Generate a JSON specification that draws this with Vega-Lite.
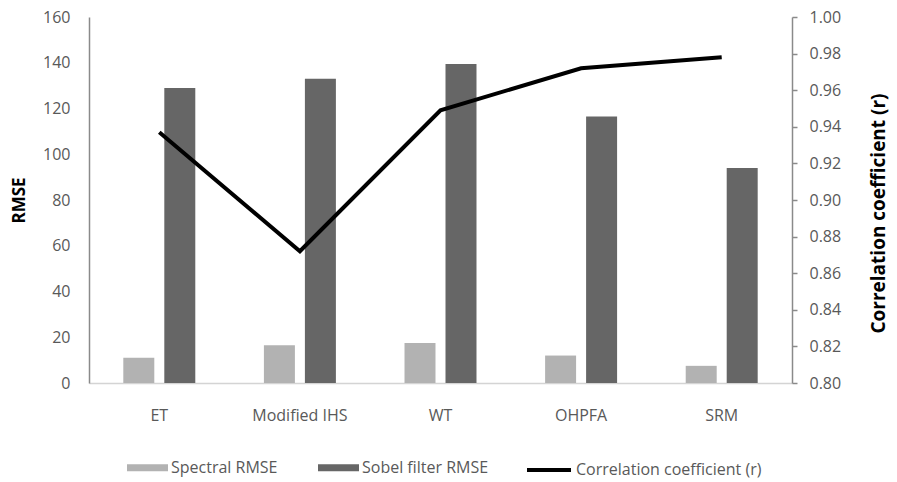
{
  "$schema": "https://vega.github.io/schema/vega-lite/v6.json",
  "width": 703,
  "height": 366,
  "autosize": {"type": "none"},
  "padding": {"left": 89, "top": 17, "right": 105, "bottom": 99},
  "config": {"view": {"stroke": null}, "font": "Open Sans"},
  "datasets": {
    "bars": [
      {"method": "ET", "series": "Spectral RMSE", "rmse": 11},
      {"method": "ET", "series": "Sobel filter RMSE", "rmse": 129},
      {"method": "Modified IHS", "series": "Spectral RMSE", "rmse": 16.5},
      {"method": "Modified IHS", "series": "Sobel filter RMSE", "rmse": 133},
      {"method": "WT", "series": "Spectral RMSE", "rmse": 17.5},
      {"method": "WT", "series": "Sobel filter RMSE", "rmse": 139.5},
      {"method": "OHPFA", "series": "Spectral RMSE", "rmse": 12},
      {"method": "OHPFA", "series": "Sobel filter RMSE", "rmse": 116.5},
      {"method": "SRM", "series": "Spectral RMSE", "rmse": 7.5},
      {"method": "SRM", "series": "Sobel filter RMSE", "rmse": 94}
    ],
    "corr": [
      {"method": "ET", "series": "Correlation coefficient (r)", "r": 0.937},
      {"method": "Modified IHS", "series": "Correlation coefficient (r)", "r": 0.872},
      {"method": "WT", "series": "Correlation coefficient (r)", "r": 0.949},
      {"method": "OHPFA", "series": "Correlation coefficient (r)", "r": 0.972},
      {"method": "SRM", "series": "Correlation coefficient (r)", "r": 0.978}
    ]
  },
  "layer": [
    {
      "data": {"name": "bars"},
      "mark": {"type": "bar"},
      "encoding": {
        "x": {
          "field": "method",
          "type": "nominal",
          "sort": ["ET", "Modified IHS", "WT", "OHPFA", "SRM"],
          "scale": {"paddingInner": 0.488, "paddingOuter": 0.244},
          "axis": {
            "title": null,
            "labelAngle": 0,
            "ticks": false,
            "tickSize": 0,
            "domainColor": "#d4d4d4",
            "domainWidth": 1.5,
            "labelFontSize": 16,
            "labelColor": "#595959",
            "labelPadding": 24
          }
        },
        "xOffset": {
          "field": "series",
          "type": "nominal",
          "sort": ["Spectral RMSE", "Sobel filter RMSE"],
          "scale": {"paddingInner": 0.244, "paddingOuter": 0}
        },
        "y": {
          "field": "rmse",
          "type": "quantitative",
          "scale": {"domain": [0, 160], "nice": false},
          "axis": {
            "title": "RMSE",
            "values": [0, 20, 40, 60, 80, 100, 120, 140, 160],
            "grid": false,
            "ticks": false,
            "tickSize": 0,
            "domainColor": "#8a8a8a",
            "domainWidth": 1.5,
            "labelFontSize": 16,
            "labelColor": "#595959",
            "labelPadding": 19,
            "titleFontSize": 17,
            "titleFontWeight": "bold",
            "titleColor": "#000000",
            "titlePadding": 14
          }
        },
        "color": {
          "field": "series",
          "type": "nominal",
          "scale": {"domain": ["Spectral RMSE", "Sobel filter RMSE"], "range": ["#b2b2b2", "#666666"]},
          "legend": {
            "title": null,
            "orient": "none",
            "legendX": 38,
            "legendY": 430,
            "direction": "horizontal",
            "symbolType": "M-1,-0.17H1V0.17H-1Z",
            "symbolSize": 1681,
            "symbolStrokeWidth": 0,
            "labelFontSize": 16,
            "labelColor": "#595959",
            "labelOffset": 3,
            "labelLimit": 300,
            "columnPadding": 40
          }
        }
      }
    },
    {
      "data": {"name": "corr"},
      "mark": {"type": "line", "strokeWidth": 4},
      "encoding": {
        "x": {
          "field": "method",
          "type": "nominal",
          "sort": ["ET", "Modified IHS", "WT", "OHPFA", "SRM"]
        },
        "y": {
          "field": "r",
          "type": "quantitative",
          "scale": {"domain": [0.8, 1.0], "nice": false, "zero": false},
          "axis": {
            "orient": "right",
            "title": "Correlation coefficient (r)",
            "values": [0.8, 0.82, 0.84, 0.86, 0.88, 0.9, 0.92, 0.94, 0.96, 0.98, 1.0],
            "format": ".2f",
            "grid": false,
            "ticks": true,
            "tickSize": 5,
            "tickColor": "#8a8a8a",
            "tickWidth": 1.5,
            "domainColor": "#8a8a8a",
            "domainWidth": 1.5,
            "labelFontSize": 16,
            "labelColor": "#595959",
            "labelPadding": 12,
            "titleFontSize": 19,
            "titleFontWeight": "bold",
            "titleColor": "#000000",
            "titleAngle": 270,
            "titleY": 196,
            "titlePadding": 48
          }
        },
        "stroke": {
          "field": "series",
          "type": "nominal",
          "scale": {"range": ["#000000"]},
          "legend": {
            "title": null,
            "orient": "none",
            "legendX": 436,
            "legendY": 429,
            "symbolType": "stroke",
            "symbolSize": 1936,
            "symbolStrokeWidth": 4,
            "labelFontSize": 16,
            "labelColor": "#595959",
            "labelOffset": 3,
            "labelLimit": 300
          }
        }
      }
    }
  ],
  "resolve": {"scale": {"y": "independent"}}
}
